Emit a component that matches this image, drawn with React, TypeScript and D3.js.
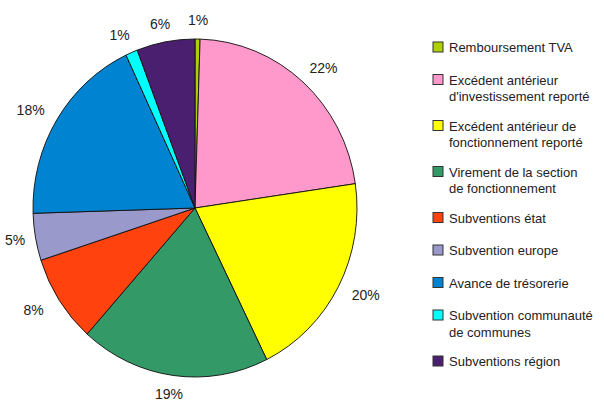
import React from 'react';
import { pie, arc, scaleOrdinal } from 'd3';

// categories in clockwise order from 12 o'clock, same order as the legend
const categories = [
  'Remboursement TVA',
  "Excédent antérieur d'investissement reporté",
  'Excédent antérieur de fonctionnement reporté',
  'Virement de la section de fonctionnement',
  'Subventions état',
  'Subvention europe',
  'Avance de trésorerie',
  'Subvention communauté de communes',
  'Subventions région',
];
// legend text broken the way the reference wraps it
const legendLines = [
  ['Remboursement TVA'],
  ['Excédent antérieur', "d'investissement reporté"],
  ['Excédent antérieur de', 'fonctionnement reporté'],
  ['Virement de la section', 'de fonctionnement'],
  ['Subventions état'],
  ['Subvention europe'],
  ['Avance de trésorerie'],
  ['Subvention communauté', 'de communes'],
  ['Subventions région'],
];
const shares = [0.5, 22.2, 20.0, 18.9, 8.4, 4.5, 18.5, 1.2, 5.8];
const percentLabels = ['1%', '22%', '20%', '19%', '8%', '5%', '18%', '1%', '6%'];
const colors = ['#aecf00', '#ff99cc', '#ffff00', '#339966', '#ff420e', '#9999cc', '#0084d1', '#00ffff', '#4b1f6f'];

const W = 604;
const H = 408;
const cx = 195;
const cy = 208;
const rx = 162;
const ry = 169;
const font = "'Liberation Sans', Arial, sans-serif";

export default function App() {
  const color = scaleOrdinal<string, string>().domain(categories).range(colors);
  const slices = pie<number>().sort(null).value((d) => d)(shares);
  const path = arc<any>().innerRadius(0).outerRadius(rx);
  // labels sit on a wider ellipse round the pie
  const kx = 1.19;
  const ky = 1.11;

  let ly = 47;
  const legendRows = legendLines.map((lines, i) => {
    const row = { lines, y: ly, name: categories[i] };
    ly += 32.5 + 13.5 * (lines.length - 1);
    return row;
  });

  return (
    <svg width={W} height={H} style={{ position: 'absolute', left: 0, top: 0, background: '#fff' }}>
      <g transform={`translate(${cx},${cy}) scale(1,${ry / rx})`}>
        {slices.map((s, i) => (
          <path
            key={i}
            d={path(s) as string}
            fill={color(categories[i])}
            stroke="#111"
            strokeWidth={0.9}
            strokeLinejoin="round"
          />
        ))}
      </g>
      {slices.map((s, i) => {
        const a = (s.startAngle + s.endAngle) / 2;
        const halfW = percentLabels[i].length * 4;
        // keep the label inside the picture
        const x = Math.max(cx + rx * kx * Math.sin(a), halfW + 7);
        const y = cy - ry * ky * Math.cos(a);
        return (
          <text
            key={i}
            x={x}
            y={y}
            textAnchor="middle"
            dominantBaseline="central"
            fontFamily={font}
            fontSize={14}
            fill="#222"
          >
            {percentLabels[i]}
          </text>
        );
      })}
      <g>
        {legendRows.map((r, i) => (
          <g key={i}>
            <rect
              x={433}
              y={r.y - 5}
              width={10}
              height={10}
              fill={color(r.name)}
              stroke="#333"
              strokeWidth={1}
            />
            <text fontFamily={font} fontSize={13} fill="#222" x={449} y={r.y} dominantBaseline="central">
              {r.lines.map((l, j) => (
                <tspan key={j} x={449} dy={j === 0 ? 0 : 16.5}>
                  {l}
                </tspan>
              ))}
            </text>
          </g>
        ))}
      </g>
    </svg>
  );
}
